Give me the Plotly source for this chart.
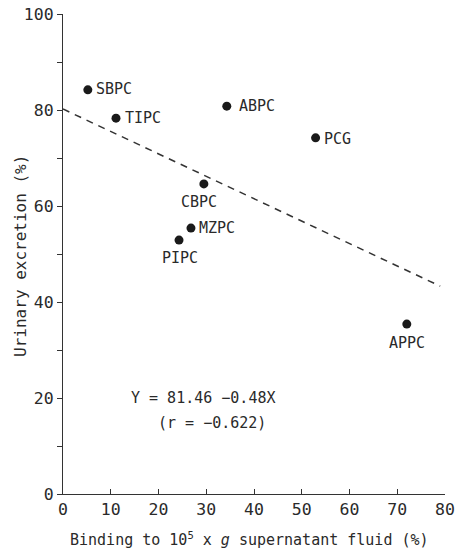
import plotly.graph_objects as go

# Data
drugs = ["SBPC", "TIPC", "ABPC", "PCG", "CBPC", "MZPC", "PIPC", "APPC"]
binding = [5.2, 11.1, 34.3, 52.9, 29.5, 26.8, 24.3, 72.0]
excretion = [84.2, 78.3, 80.8, 74.2, 64.6, 55.4, 52.9, 35.4]

# label placement: (xanchor, yanchor, xshift, yshift)
label_pos = {
    "SBPC": ("left", "middle", 6, 1),
    "TIPC": ("left", "middle", 7, 0),
    "ABPC": ("left", "middle", 10, 0),
    "PCG": ("left", "middle", 6, -1),
    "CBPC": ("center", "top", -5, -7),
    "MZPC": ("left", "middle", 6, 0),
    "PIPC": ("center", "top", 1, -7),
    "APPC": ("center", "top", 0, -8),
}

# Regression line as drawn (endpoints)
reg_x = [0, 79]
reg_y = [80.2, 43.3]

x_title = "Binding to 10<sup>5</sup> x <i>g</i> supernatant fluid (%)"
y_title = "Urinary excretion (%)"

FONT = "DejaVu Sans Mono"
TXT = "#2a2a2a"

fig = go.Figure()
fig.add_trace(go.Scatter(x=reg_x, y=reg_y, mode="lines",
                         line=dict(color="#333", width=1.5, dash="7px,6px"),
                         hoverinfo="skip", showlegend=False))
fig.add_trace(go.Scatter(x=binding, y=excretion, mode="markers",
                         marker=dict(color="#1a1a1a", size=9),
                         showlegend=False))

for d, xv, yv in zip(drugs, binding, excretion):
    xa, ya, xs, ys = label_pos[d]
    fig.add_annotation(x=xv, y=yv, text=d, showarrow=False,
                       xanchor=xa, yanchor=ya, xshift=xs, yshift=ys,
                       font=dict(family=FONT, size=15, color=TXT))

fig.add_annotation(x=29.5, y=20, text="Y = 81.46 −0.48X", showarrow=False,
                   font=dict(family=FONT, size=15, color=TXT))
fig.add_annotation(x=31.2, y=14.8, text="(r = −0.622)", showarrow=False,
                   font=dict(family=FONT, size=15, color=TXT))

# axis titles placed as annotations for exact positioning
fig.add_annotation(xref="paper", yref="paper", x=0.487, y=0, yshift=-45,
                   xanchor="center", yanchor="middle", text=x_title,
                   showarrow=False, font=dict(family=FONT, size=15, color=TXT))
fig.add_annotation(xref="paper", yref="paper", x=0, xshift=-42, y=0.496,
                   xanchor="center", yanchor="middle", text=y_title,
                   textangle=-90, showarrow=False,
                   font=dict(family=FONT, size=16, color=TXT))

fig.update_layout(
    width=456, height=552,
    margin=dict(l=63, r=11, t=14, b=58),
    paper_bgcolor="white", plot_bgcolor="white",
    font=dict(family=FONT, size=15, color=TXT),
    xaxis=dict(range=[0, 80], dtick=10, tick0=0, ticks="inside", ticklen=5,
               tickcolor="#333", showline=True, linecolor="#333", linewidth=1.2,
               showgrid=False, zeroline=False, tickfont=dict(size=16.5),
               automargin=False, ticklabeloverflow="allow"),
    yaxis=dict(range=[0, 100], dtick=20, tick0=0,
               ticks="outside", ticklen=5, tickcolor="#333",
               minor=dict(dtick=10, ticks="outside", ticklen=5, tickcolor="#333",
                          showgrid=False),
               showline=True, linecolor="#333", linewidth=1.2,
               showgrid=False, zeroline=False, tickfont=dict(size=16.5),
               automargin=False, ticklabeloverflow="allow"),
)

fig.write_html("out.html", config={"displayModeBar": False},
               post_script="document.body.style.margin='0';document.body.style.overflow='hidden';")
